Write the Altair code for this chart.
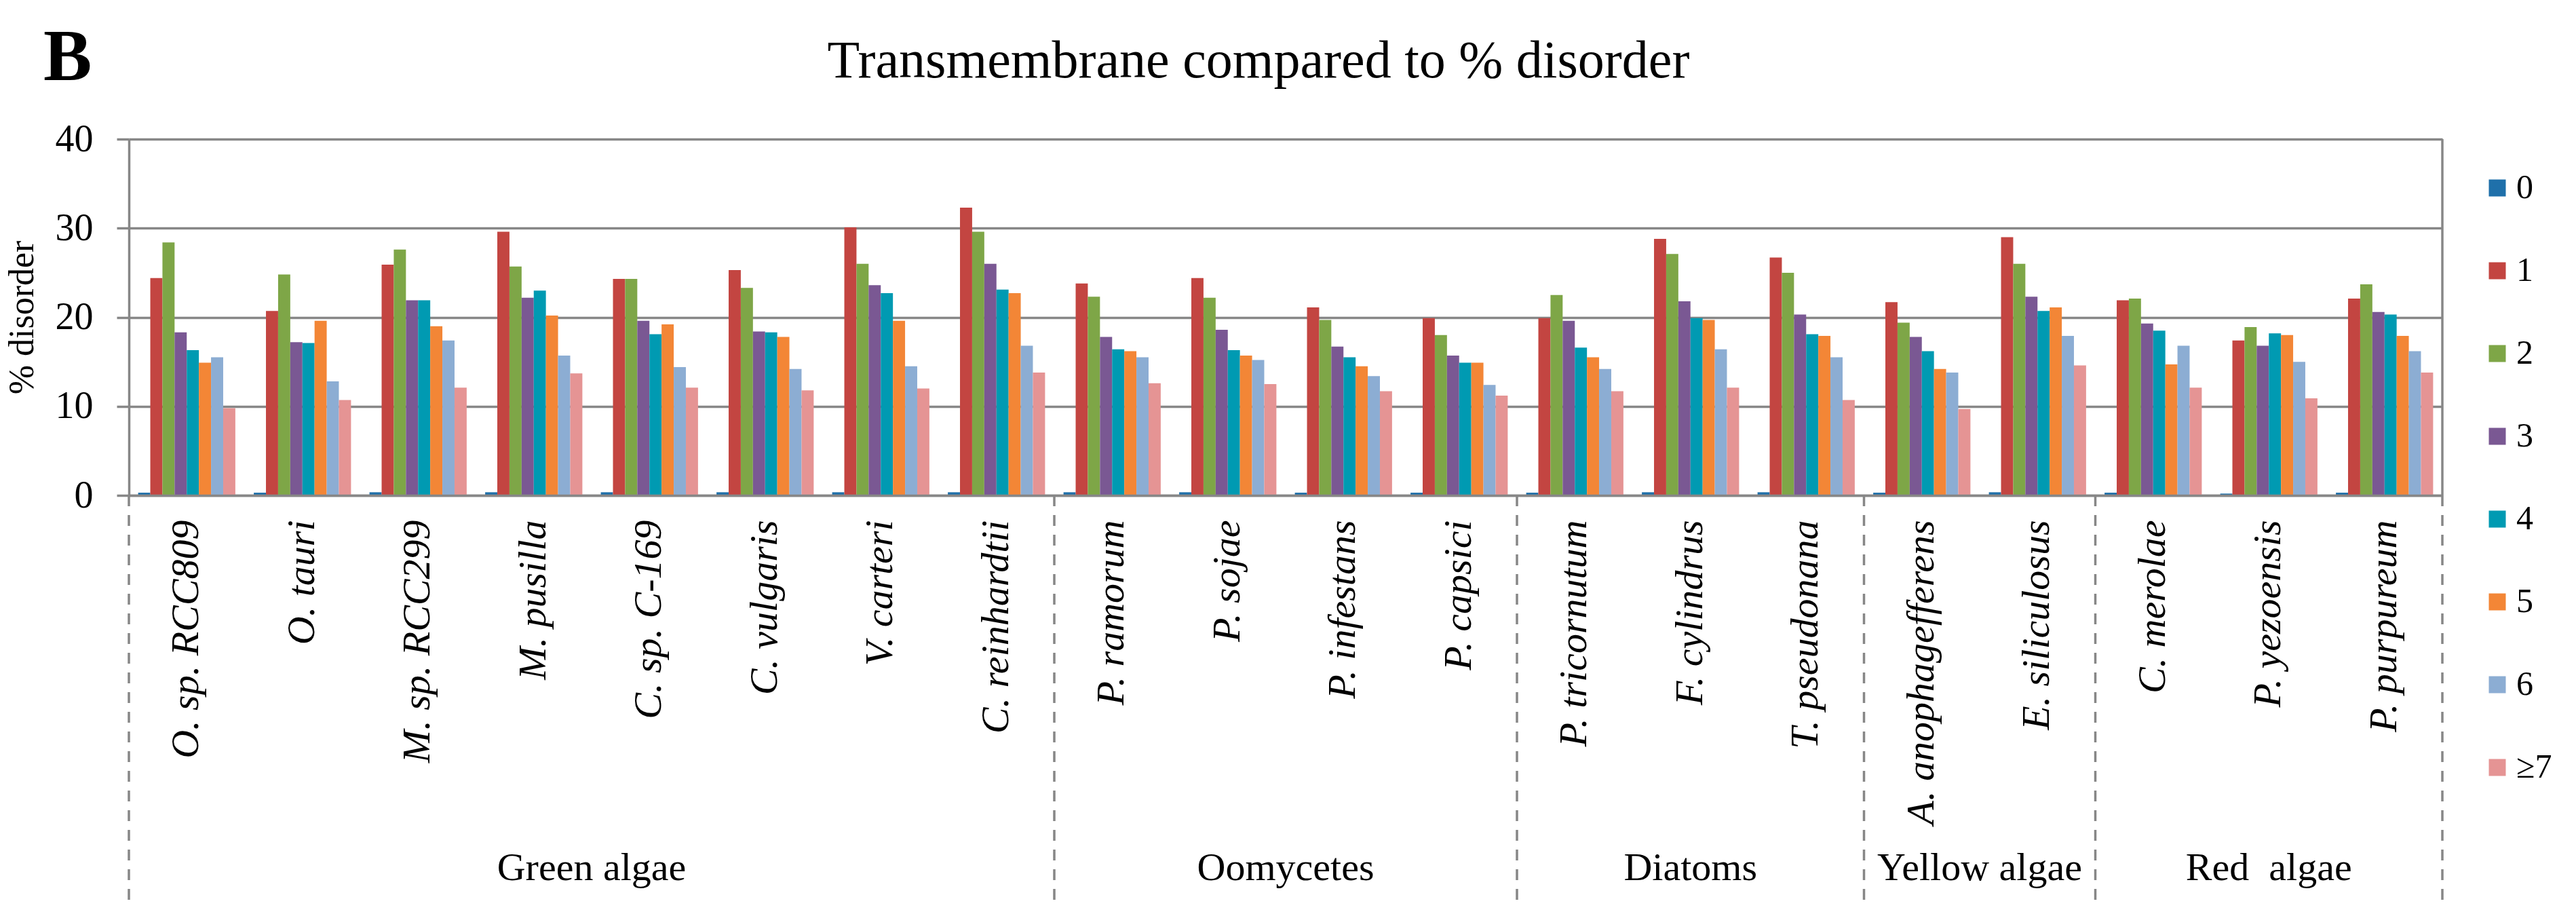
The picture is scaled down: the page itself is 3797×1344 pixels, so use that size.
import altair as alt
import pandas as pd

species = ["O. sp. RCC809", "O. tauri", "M. sp. RCC299", "M. pusilla", "C. sp. C-169",
           "C. vulgaris", "V. carteri", "C. reinhardtii", "P. ramorum", "P. sojae",
           "P. infestans", "P. capsici", "P. tricornutum", "F. cylindrus", "T. pseudonana",
           "A. anophagefferens", "E. siliculosus", "C. merolae", "P. yezoensis", "P. purpureum"]
groups = ["Green algae", "Oomycetes", "Diatoms", "Yellow algae", "Red\u00a0\u00a0algae"]
group_sizes = [8, 4, 3, 2, 3]
series = ["0", "1", "2", "3", "4", "5", "6", "\u22657"]
colors = ["#1F70AA", "#C34541", "#7EA647", "#7A5893", "#009AB2", "#F38636", "#8CADD3", "#E59494"]

v0 = [0.3, 0.3, 0.35, 0.35, 0.35, 0.35, 0.35, 0.35, 0.35, 0.35, 0.3, 0.3, 0.3, 0.35, 0.35, 0.3, 0.35, 0.3, 0.2, 0.3]
v1 = [24.4, 20.7, 25.9, 29.6, 24.3, 25.3, 30.1, 32.3, 23.8, 24.4, 21.1, 19.9, 19.9, 28.8, 26.7, 21.7, 29.0, 21.9, 17.4, 22.1]
v2 = [28.4, 24.8, 27.6, 25.7, 24.3, 23.3, 26.0, 29.6, 22.3, 22.2, 19.7, 18.0, 22.5, 27.1, 25.0, 19.4, 26.0, 22.1, 18.9, 23.7]
v3 = [18.3, 17.2, 21.9, 22.2, 19.6, 18.4, 23.6, 26.0, 17.8, 18.6, 16.7, 15.7, 19.6, 21.8, 20.3, 17.8, 22.3, 19.3, 16.8, 20.6]
v4 = [16.3, 17.1, 21.9, 23.0, 18.1, 18.3, 22.7, 23.1, 16.4, 16.3, 15.5, 14.9, 16.6, 19.9, 18.1, 16.2, 20.7, 18.5, 18.2, 20.3]
v5 = [14.9, 19.6, 19.0, 20.2, 19.2, 17.8, 19.6, 22.7, 16.2, 15.7, 14.5, 14.9, 15.5, 19.7, 17.9, 14.2, 21.1, 14.7, 18.0, 17.9]
v6 = [15.5, 12.8, 17.4, 15.7, 14.4, 14.2, 14.5, 16.8, 15.5, 15.2, 13.4, 12.4, 14.2, 16.4, 15.5, 13.8, 17.9, 16.8, 15.0, 16.2]
v7 = [9.8, 10.7, 12.1, 13.7, 12.1, 11.8, 12.0, 13.8, 12.6, 12.5, 11.7, 11.2, 11.7, 12.1, 10.7, 9.7, 14.6, 12.1, 10.9, 13.8]

FONT = "Liberation Serif"
GRAY = "#878787"
W, H = 3410, 525

vals = [v0, v1, v2, v3, v4, v5, v6, v7]
rows = []
for s, arr in zip(series, vals):
    for sp, v in zip(species, arr):
        rows.append({"species": sp, "series": s, "value": v})
df = pd.DataFrame(rows)

bounds = [0]
for g in group_sizes:
    bounds.append(bounds[-1] + g)
sep_df = pd.DataFrame({"b": bounds})
grp_df = pd.DataFrame({"group": groups,
                       "c": [(bounds[i] + bounds[i + 1]) / 2 for i in range(len(groups))]})
n = len(species)

bars = alt.Chart(df).mark_bar().encode(
    x=alt.X("species:N", sort=species, scale=alt.Scale(paddingInner=0, paddingOuter=0),
            axis=alt.Axis(title=None, labelAngle=270, labelFontStyle="italic", labelFont=FONT,
                          labelFontSize=58, labelColor="black", labelPadding=36, labelLimit=1000,
                          ticks=False, domainColor=GRAY, domainWidth=3.5, zindex=1)),
    xOffset=alt.XOffset("series:N", sort=series, scale=alt.Scale(paddingInner=0, paddingOuter=0.76)),
    y=alt.Y("value:Q", scale=alt.Scale(domain=[0, 40], nice=False),
            axis=alt.Axis(values=[0, 10, 20, 30, 40], grid=True, gridColor=GRAY, gridWidth=3.5,
                          domainColor=GRAY, domainWidth=3.5, tickColor=GRAY, tickWidth=3.5,
                          tickSize=18, labelFontSize=56, labelFont=FONT, labelColor="black",
                          labelPadding=35, title="% disorder", titleFontSize=52, titleFont=FONT,
                          titleFontWeight="normal", titleColor="black", titlePadding=22)),
    color=alt.Color("series:N", sort=series, scale=alt.Scale(domain=series, range=colors),
                    legend=alt.Legend(orient="none", legendX=3466, legendY=47, title=None,
                                      symbolType="square", symbolSize=625, symbolStrokeWidth=0,
                                      labelFontSize=50, labelFont=FONT, labelColor="black",
                                      rowPadding=72, labelOffset=3, padding=0)),
)

border = alt.Chart(pd.DataFrame({"k": [0]})).mark_rule(color=GRAY, strokeWidth=3.5).encode(
    x=alt.value(W), y=alt.value(0), y2=alt.value(H))

seps = alt.Chart(sep_df).mark_rule(color=GRAY, strokeWidth=3.5, strokeDash=[16, 13]).encode(
    x=alt.X("b:Q", scale=alt.Scale(domain=[0, n], nice=False, zero=False), axis=None),
    y=alt.value(H), y2=alt.value(1139))

glabels = alt.Chart(grp_df).mark_text(font=FONT, fontSize=58, color="black",
                                      baseline="alphabetic", align="center").encode(
    x=alt.X("c:Q", scale=alt.Scale(domain=[0, n], nice=False, zero=False), axis=None),
    y=alt.value(1092), text="group:N")

btext = alt.Chart(pd.DataFrame({"t": ["B"]})).mark_text(
    font=FONT, fontSize=107, fontWeight="bold", color="black", align="left",
    baseline="alphabetic").encode(x=alt.value(-126), y=alt.value(-87), text="t:N")

ttext = alt.Chart(pd.DataFrame({"t": ["Transmembrane compared to % disorder"]})).mark_text(
    font=FONT, fontSize=78, color="black", align="center", baseline="alphabetic").encode(
    x=alt.value(1665), y=alt.value(-91), text="t:N")

chart = alt.layer(bars, border, seps, glabels, btext, ttext).resolve_scale(
    x="independent").properties(
    width=W, height=H,
    autosize=alt.AutoSizeParams(type="none"),
    padding={"left": 182, "top": 197, "right": 189, "bottom": 600},
).configure_view(stroke=None).configure(background="white", font=FONT)

chart.save("out.html", embed_options={"renderer": "svg", "actions": False})
